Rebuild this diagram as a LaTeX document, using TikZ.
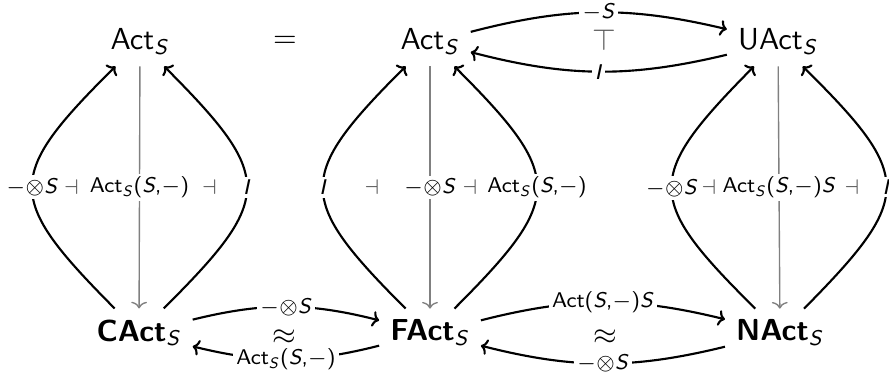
\documentclass[tikz,border=0pt]{standalone}
\usetikzlibrary{calc,arrows.meta}
\newcommand{\sS}{\textsl{S}}
\newcommand{\sI}{\textsl{I}}
\newcommand{\sub}[1]{\textsubscript{\mdseries\textsl{#1}}}
\newcommand{\tens}{$-{\otimes}$\sS}

\begin{document}
\begin{tikzpicture}[
        x=0.329pt, y=0.329pt,
        font=\sffamily,
        obj/.style={inner sep=3.5pt},
        bobj/.style={inner sep=3.5pt, font=\sffamily\bfseries},
        lbl/.style={fill=white, text=black, inner sep=1pt, font=\sffamily\scriptsize},
        adj/.style={text=black!65, inner sep=0pt},
        fun/.style={->, line width=0.7pt},
        forget/.style={->, gray, line width=0.45pt},
        arcl/.style={bend left=45, looseness=1.65},
        arcr/.style={bend right=45, looseness=1.65},
        hbend/.style={bend left=14},
        >={To[length=2.2pt,width=5.2pt]}
    ]
    \useasboundingbox (0,0) rectangle (889,371);
    % objects
    \node[obj] (acts1) at (140,329) {Act\sub{S}};
    \node (eqsign) at (285,329) {$=$};
    \node[obj] (acts2) at (430,329) {Act\sub{S}};
    \node[obj] (uacts) at (778,329) {UAct\sub{S}};
    \node[bobj] (cacts) at (139,38) {CAct\sub{S}};
    \node[bobj] (facts) at (430,38) {FAct\sub{S}};
    \node[bobj] (nacts) at (780,38) {NAct\sub{S}};
    % left square
    \draw[forget] (acts1) -- node[lbl] {Act\sub{S}(\sS,$-$)} (cacts);
    \draw[fun] (cacts) to[arcl] node[lbl] {\tens} (acts1);
    \draw[fun] (cacts) to[arcr] node[lbl] {\sI} (acts1);
    \node[adj] (dv1) at ($(acts1)!0.5!(cacts)+(-68,0)$) {$\scriptstyle\dashv$};
    \node[adj] (dv2) at ($(acts1)!0.5!(cacts)+(70,0)$) {$\scriptstyle\dashv$};
    % middle
    \draw[forget] (acts2) -- node[lbl] {\tens} (facts);
    \draw[fun] (facts) to[arcl] node[lbl] {\sI} (acts2);
    \draw[fun] (facts) to[arcr] node[lbl] {Act\sub{S}(\sS,$-$)} (acts2);
    \node[adj] (dv3) at ($(acts2)!0.5!(facts)+(-58,0)$) {$\scriptstyle\dashv$};
    \node[adj] (dv4) at ($(acts2)!0.5!(facts)+(40,0)$) {$\scriptstyle\dashv$};
    % right
    \draw[forget] (uacts) -- node[lbl] {Act\sub{S}(\sS,$-$)\sS} (nacts);
    \draw[fun] (nacts) to[arcl] node[lbl] {\tens} (uacts);
    \draw[fun] (nacts) to[arcr] node[lbl] {\sI} (uacts);
    \node[adj] (dv5) at ($(uacts)!0.5!(nacts)+(-70,0)$) {$\scriptstyle\dashv$};
    \node[adj] (dv6) at ($(uacts)!0.5!(nacts)+(73,0)$) {$\scriptstyle\dashv$};
    % horizontal pairs
    \draw[fun] (acts2) to[hbend] node[lbl] {$-$\sS} (uacts);
    \draw[fun] (uacts) to[hbend] node[lbl] {\sI} (acts2);
    \node[adj] (tp) at ($(acts2)!0.5!(uacts)+(0,2)$) {$\top$};
    \draw[fun] (cacts) to[hbend] node[lbl] {\tens} (facts);
    \draw[fun] (facts) to[hbend] node[lbl] {Act\sub{S}(\sS,$-$)} (cacts);
    \node (eqv1) at ($(cacts)!0.5!(facts)+(0,-4)$) {$\approx$};
    \draw[fun] (facts) to[hbend] node[lbl] {Act(\sS,$-$)\sS} (nacts);
    \draw[fun] (nacts) to[hbend] node[lbl] {\tens} (facts);
    \node (eqv2) at ($(facts)!0.5!(nacts)+(0,-4)$) {$\approx$};
\end{tikzpicture}
\end{document}
